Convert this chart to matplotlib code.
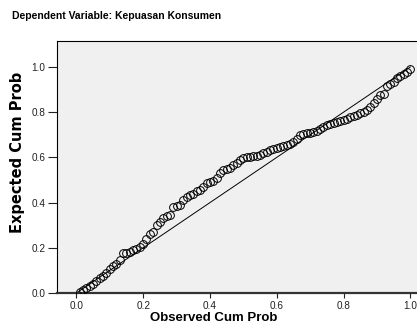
import numpy as np
import matplotlib
matplotlib.use("Agg")
import matplotlib.pyplot as plt

# =========================================================
# Data: P-P plot of regression standardized residuals
# =========================================================

observed_cum_prob = [
    0.01, 0.02, 0.03, 0.04, 0.05, 0.06, 0.07, 0.08, 0.09, 0.10,
    0.11, 0.12, 0.13, 0.14, 0.15, 0.16, 0.17, 0.18, 0.19, 0.20,
    0.21, 0.22, 0.23, 0.24, 0.25, 0.26, 0.27, 0.28, 0.29, 0.30,
    0.31, 0.32, 0.33, 0.34, 0.35, 0.36, 0.37, 0.38, 0.39, 0.40,
    0.41, 0.42, 0.43, 0.44, 0.45, 0.46, 0.47, 0.48, 0.49, 0.50,
    0.51, 0.52, 0.53, 0.54, 0.55, 0.56, 0.57, 0.58, 0.59, 0.60,
    0.61, 0.62, 0.63, 0.64, 0.65, 0.66, 0.67, 0.68, 0.69, 0.70,
    0.71, 0.72, 0.73, 0.74, 0.75, 0.76, 0.77, 0.78, 0.79, 0.80,
    0.81, 0.82, 0.83, 0.84, 0.85, 0.86, 0.87, 0.88, 0.89, 0.90,
    0.91, 0.92, 0.93, 0.94, 0.95, 0.96, 0.97, 0.98, 0.99, 1.00,
]

expected_cum_prob = [
    0.005, 0.012, 0.020, 0.030, 0.040, 0.055, 0.065, 0.075, 0.090, 0.105,
    0.120, 0.130, 0.145, 0.175, 0.178, 0.182, 0.190, 0.195, 0.205, 0.215,
    0.240, 0.260, 0.270, 0.300, 0.315, 0.330, 0.340, 0.345, 0.380, 0.385,
    0.390, 0.410, 0.425, 0.435, 0.440, 0.450, 0.455, 0.470, 0.485, 0.490,
    0.495, 0.510, 0.530, 0.545, 0.550, 0.555, 0.565, 0.575, 0.590, 0.598,
    0.600, 0.602, 0.604, 0.606, 0.610, 0.620, 0.625, 0.632, 0.636, 0.640,
    0.645, 0.650, 0.655, 0.660, 0.670, 0.680, 0.700, 0.705, 0.707, 0.708,
    0.712, 0.718, 0.725, 0.735, 0.742, 0.748, 0.752, 0.757, 0.760, 0.765,
    0.772, 0.778, 0.782, 0.788, 0.795, 0.800, 0.810, 0.825, 0.840, 0.860,
    0.875, 0.880, 0.915, 0.925, 0.935, 0.950, 0.960, 0.970, 0.980, 0.990,
]

ref_line = [0.0, 1.0]
tick_values = [0.0, 0.2, 0.4, 0.6, 0.8, 1.0]
tick_labels = ["0.0", "0.2", "0.4", "0.6", "0.8", "1.0"]

title_text = "Dependent Variable: Kepuasan Konsumen"
x_label = "Observed Cum Prob"
y_label = "Expected Cum Prob"

# =========================================================
# Figure
# =========================================================

fig = plt.figure(figsize=(4.17, 3.26), dpi=100)
ax = fig.add_axes([57 / 417, 33 / 326, 360 / 417, 252 / 326])
ax.set_facecolor("#f0f0f0")

ax.plot(ref_line, ref_line, color="black", linewidth=0.7, zorder=2)
ax.plot(observed_cum_prob, expected_cum_prob, linestyle="none", marker="o",
        markersize=5.6, markerfacecolor="none", markeredgecolor="black",
        markeredgewidth=0.7, zorder=3)

ax.set_xlim(-0.058, 1.02)
ax.set_ylim(0.0, 1.115)

ax.set_xticks(tick_values)
ax.set_xticklabels(tick_labels, fontsize=7.2, family="Liberation Sans", color="#222222")
ax.set_yticks(tick_values)
ax.set_yticklabels(tick_labels, fontsize=7.2, family="Liberation Sans", color="#222222")
ax.tick_params(axis="x", direction="out", length=3.5, width=0.8, pad=2, colors="#222222")
ax.tick_params(axis="y", direction="out", length=6.5, width=0.8, pad=2, colors="#222222")

ax.spines["right"].set_visible(False)
ax.spines["top"].set_linewidth(0.8)
ax.spines["left"].set_linewidth(0.8)
ax.spines["bottom"].set_linewidth(1.6)
ax.spines["bottom"].set_color("#333333")

fig.text(12 / 417, 1 - 16 / 326, title_text, fontsize=7.5, fontweight="bold",
         family="Liberation Sans", ha="left", va="center")
fig.text(214 / 417, 1 - 318 / 326, x_label, fontsize=9.5, fontweight="bold",
         family="Liberation Sans", ha="center", va="center")
fig.text(18 / 417, 1 - 152 / 326, y_label, fontsize=10.5, fontweight="bold",
         family="DejaVu Sans", rotation=90, ha="center", va="center")

fig.savefig("out.png", dpi=100)
